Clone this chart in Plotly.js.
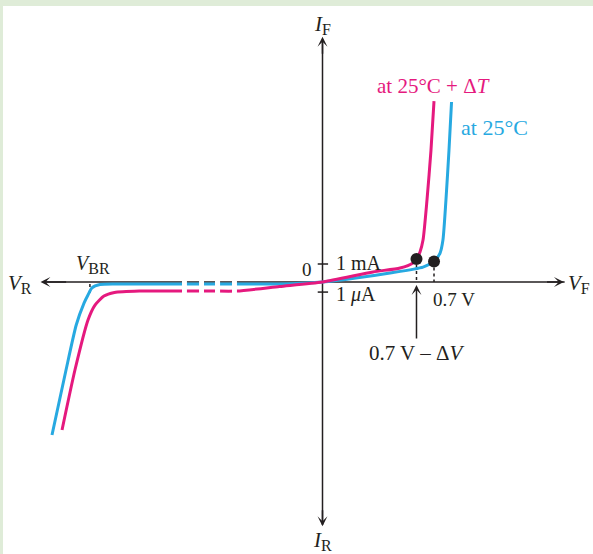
<!DOCTYPE html>
<html>
<head>
<meta charset="utf-8">
<script src="https://cdn.plot.ly/plotly-3.0.1.min.js"></script>
<style>
  html, body { margin: 0; padding: 0; background: #dfecd8; }
  #chart { width: 593px; height: 554px; }
</style>
</head>
<body>
<div id="chart"></div>
<script>
// Diode I–V characteristic (schematic units: volts across, current up/down)
// Curve at 25 °C
const coolV = [-1.698, -1.61, -1.546, -1.497, -1.472, -1.447, -1.397, -1.30, -1.10, -0.9, -0.6, -0.2, 0, 0.21, 0.424, 0.631, 0.7, 0.738, 0.756, 0.775, 0.794, 0.81];
const coolI = [-8.5, -4.89, -2.39, -1.17, -0.72, -0.33, -0.14, -0.11, -0.11, -0.11, -0.11, -0.1, 0, 0.22, 0.5, 0.83, 1.14, 1.61, 2.33, 4.56, 7.33, 10.0];
// Curve at 25 °C + ΔT
const warmV = [-1.635, -1.554, -1.472, -1.428, -1.372, -1.306, -1.15, -1.0, -0.7, -0.537, -0.27, 0, 0.317, 0.487, 0.568, 0.59, 0.612, 0.631, 0.656, 0.681, 0.7];
const warmI = [-8.22, -4.89, -2.11, -1.28, -0.78, -0.58, -0.5, -0.5, -0.5, -0.5, -0.25, 0, 0.56, 0.78, 1.06, 1.28, 1.67, 2.33, 4.56, 7.33, 10.05];
// Knee points (0.7 V − ΔV and 0.7 V)
const kneeV = [0.59, 0.7];
const kneeI = [1.28, 1.14];
// Breakdown voltage marker
const breakdownV = -1.46;
const breakdownI = [-0.11, -0.72];
// Current ticks on the vertical axis: 1 mA and 1 μA
const tickI = [1.0, -0.56];
const tickLabels = ['1 mA', '1 <i>μ</i>A'];
// Broken section of the reverse axis
const axisBreaks = [[-0.882, -0.851], [-0.775, -0.744], [-0.675, -0.643], [-0.568, -0.537]];

const ink = '#231f20';
const cyan = '#27a9e1';
const magenta = '#e5197e';
const serif = 'Liberation Serif, Times New Roman, serif';

const traces = [
  { x: coolV, y: coolI, mode: 'lines', line: { color: cyan, width: 3, shape: 'spline', smoothing: 0.6 }, hoverinfo: 'skip' },
  { x: warmV, y: warmI, mode: 'lines', line: { color: magenta, width: 3, shape: 'spline', smoothing: 0.6 }, hoverinfo: 'skip' },
  { x: kneeV, y: kneeI, mode: 'markers', marker: { color: ink, size: 12 }, hoverinfo: 'skip' }
];

const shapes = [
  // axes
  { type: 'line', xref: 'x', yref: 'y', x0: -1.75, x1: 1.52, y0: 0, y1: 0, line: { color: ink, width: 1.5 }, layer: 'below' },
  { type: 'line', xref: 'x', yref: 'y', x0: 0, x1: 0, y0: -13.5, y1: 13.4, line: { color: ink, width: 1.5 }, layer: 'below' },
  // breakdown voltage drop line
  { type: 'line', xref: 'x', yref: 'y', x0: breakdownV, x1: breakdownV, y0: breakdownI[0], y1: breakdownI[1], line: { color: ink, width: 1.5, dash: 'dot' }, layer: 'below' }
];
kneeV.forEach((v, i) => {
  shapes.push({ type: 'line', xref: 'x', yref: 'y', x0: v, x1: v, y0: kneeI[i], y1: 0, line: { color: ink, width: 1.5, dash: 'dot' }, layer: 'below' });
});
tickI.forEach(t => {
  shapes.push({ type: 'line', xref: 'x', yref: 'y', x0: -0.03, x1: 0.035, y0: t, y1: t, line: { color: ink, width: 1.5 }, layer: 'below' });
});
axisBreaks.forEach(b => {
  shapes.push({ type: 'rect', xref: 'x', yref: 'y', x0: b[0], x1: b[1], y0: -0.85, y1: 0.25, fillcolor: '#ffffff', line: { width: 0 }, layer: 'above' });
});

function arrow(x, y, ax, ay) {
  return { x: x, y: y, ax: ax, ay: ay, xref: 'x', yref: 'y', axref: 'x', ayref: 'y', text: '', showarrow: true,
           arrowhead: 3, arrowsize: 1.1, arrowwidth: 1.5, arrowcolor: ink, standoff: 0, startstandoff: 0 };
}
function label(text, x, y, anchor, color, size) {
  return { x: x, y: y, xref: 'x', yref: 'y', text: text, showarrow: false, xanchor: anchor || 'center', yanchor: 'middle',
           font: { family: serif, size: size || 19, color: color || ink } };
}
// italic symbol with a roman subscript that stays fairly large
function symbol(letter, sub, subSize) {
  return '<i>' + letter + '</i><sub><span style="font-size:' + subSize + 'px">' + sub + '</span></sub>';
}

const annotations = [
  arrow(-1.77, 0, -1.60, 0),
  arrow(1.515, 0, 1.40, 0),
  arrow(0, 13.62, 0, 12.6),
  arrow(0, -13.57, 0, -12.6),
  arrow(kneeV[0], -0.17, kneeV[0], -3.22),
  label(symbol('I', 'F', 16), 0, 14.3, 'center', ink, 21),
  label(symbol('I', 'R', 16), 0, -14.4, 'center', ink, 21),
  label(symbol('V', 'R', 16), -1.9, -0.1, 'center', ink, 21),
  label(symbol('V', 'F', 16), 1.61, -0.1, 'center', ink, 21),
  label(symbol('V', 'BR', 16), -1.44, 0.95, 'center', ink, 20),
  label('0', -0.097, 0.72, 'center', ink, 19),
  label(tickLabels[0], 0.07, 1.05, 'left', ink, 20),
  label(tickLabels[1], 0.07, -0.72, 'left', ink, 20),
  label('0.7 V', 0.678, -0.95, 'left', ink, 19),
  label('0.7 V – Δ<i>V</i>', kneeV[0], -3.94, 'center', ink, 21),
  label('at 25°C + Δ<i>T</i>', 0.33, 10.89, 'left', magenta, 21),
  label('at 25°C', 0.855, 8.61, 'left', cyan, 22)
];

const layout = {
  width: 593, height: 554,
  margin: { l: 3, r: 0, t: 6, b: 0, pad: 0 },
  paper_bgcolor: '#dfecd8',
  plot_bgcolor: '#ffffff',
  showlegend: false,
  xaxis: { range: [-2.0056, 1.6980], visible: false, fixedrange: true },
  yaxis: { range: [-15.111, 15.333], visible: false, fixedrange: true },
  shapes: shapes,
  annotations: annotations
};

Plotly.newPlot('chart', traces, layout, { staticPlot: true, displayModeBar: false });
</script>
</body>
</html>
